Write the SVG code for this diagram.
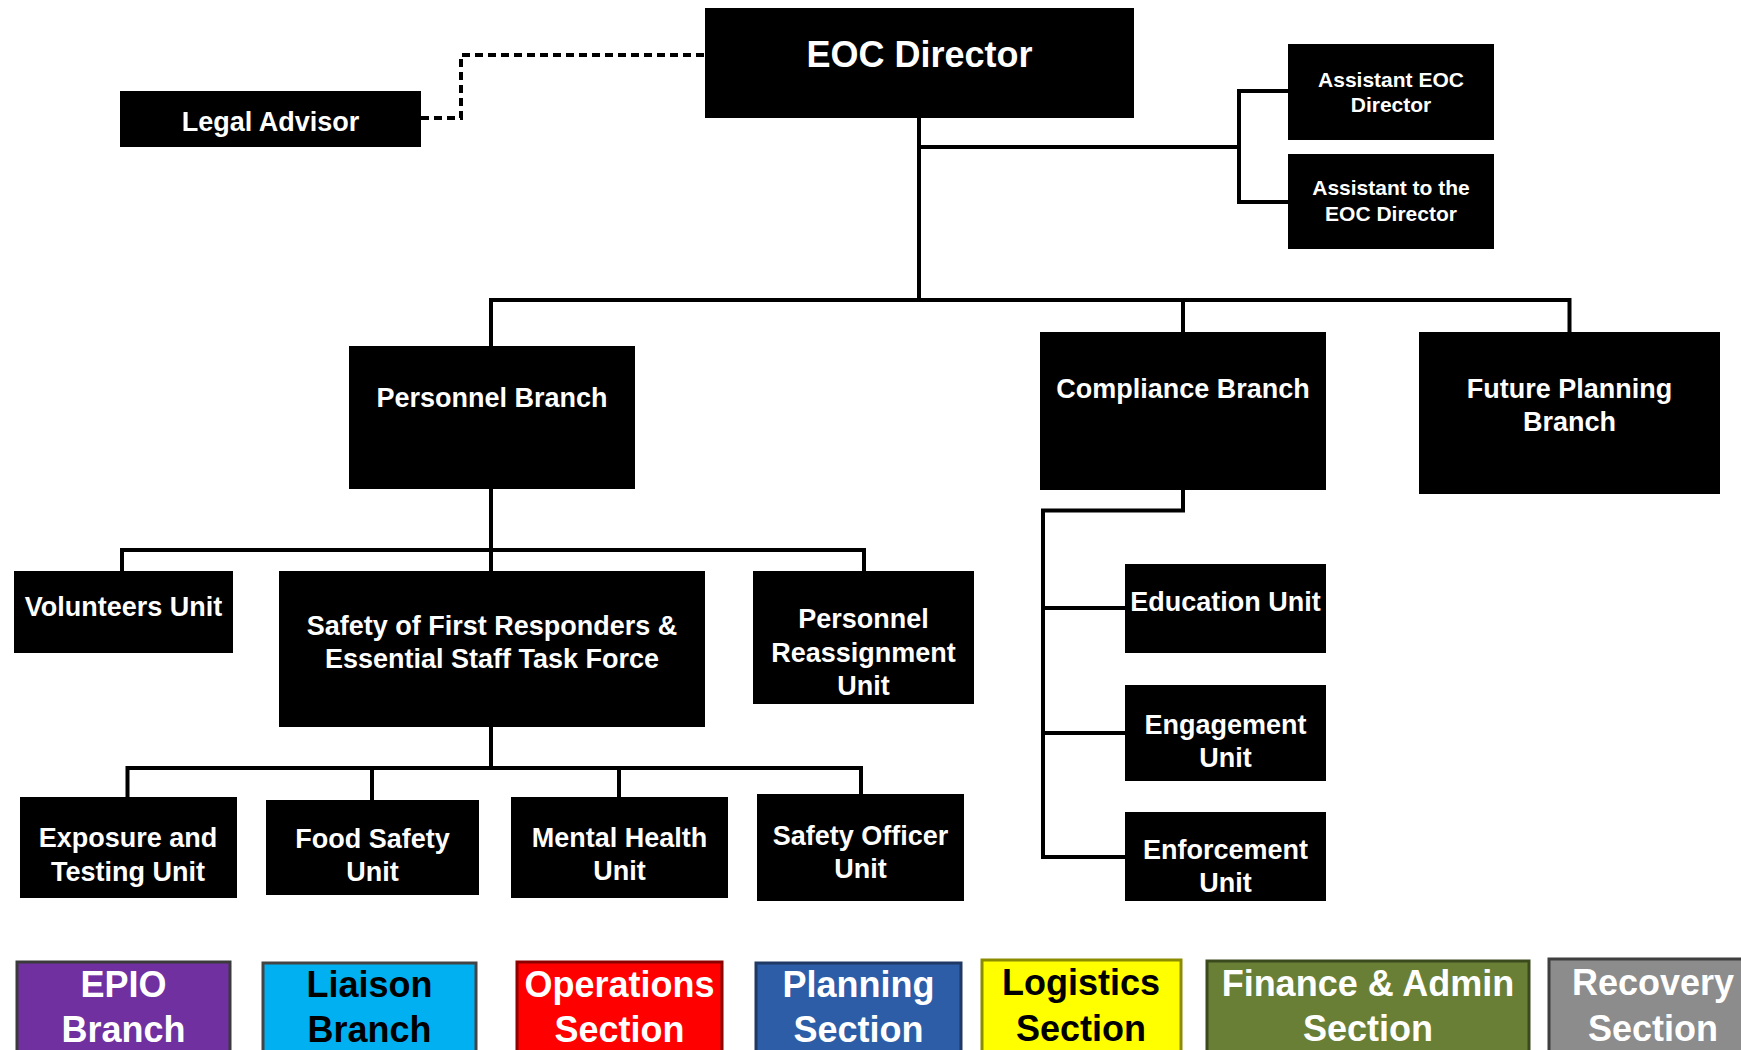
<svg xmlns="http://www.w3.org/2000/svg" width="1741" height="1050" viewBox="0 0 1741 1050">
<style>
.box{fill:#000}
.t{font-family:"Liberation Sans",Arial,sans-serif;font-weight:bold;text-anchor:middle;fill:#fff}
.s27{font-size:27px}
.s21{font-size:21px}
.s36{font-size:36px}
.dk{fill:#000}
.ln{fill:none;stroke:#000;stroke-width:4;stroke-linejoin:miter;stroke-linecap:square}
.dash{fill:none;stroke:#000;stroke-width:4;stroke-dasharray:8 5}
.leg{stroke-width:3}
</style>
<rect width="1741" height="1050" fill="#fff"/>
<g id="connectors">
<path class="dash" d="M421,118 H461 V55 H705"/>
<path class="ln" d="M919,118 V300 M491,300 H1569.5 M491,300 V346 M1183,300 V332 M1569.5,300 V332"/>
<path class="ln" d="M919,147 H1239 M1288,91 H1239 V202 H1288"/>
<path class="ln" d="M491,489 V571 M122,571 V550 H864 V571"/>
<path class="ln" d="M491,727 V768 M127.5,797 V768 H861 V794 M372,768 V800 M619,768 V797"/>
<path class="ln" d="M1183,490 V510.5 H1043 V857 H1125 M1043,608 H1125 M1043,733 H1125"/>
</g>
<g id="eoc-director"><rect class="box" x="705" y="8" width="429" height="110"/><text class="t s36" x="919.5" y="67">EOC Director</text></g>
<g id="legal-advisor"><rect class="box" x="120" y="91" width="301" height="56"/><text class="t s27" x="270.5" y="131">Legal Advisor</text></g>
<g id="assistant-eoc-director"><rect class="box" x="1288" y="44" width="206" height="96"/><text class="t s21" x="1391" y="87">Assistant EOC</text><text class="t s21" x="1391" y="112">Director</text></g>
<g id="assistant-to-director"><rect class="box" x="1288" y="154" width="206" height="95"/><text class="t s21" x="1391" y="195">Assistant to the</text><text class="t s21" x="1391" y="221">EOC Director</text></g>
<g id="personnel-branch"><rect class="box" x="349" y="346" width="286" height="143"/><text class="t s27" x="492" y="407">Personnel Branch</text></g>
<g id="compliance-branch"><rect class="box" x="1040" y="332" width="286" height="158"/><text class="t s27" x="1183" y="397.5">Compliance Branch</text></g>
<g id="future-planning-branch"><rect class="box" x="1419" y="332" width="301" height="162"/><text class="t s27" x="1569.5" y="397.5">Future Planning</text><text class="t s27" x="1569.5" y="430.5">Branch</text></g>
<g id="volunteers-unit"><rect class="box" x="14" y="571" width="219" height="82"/><text class="t s27" x="123.5" y="616">Volunteers Unit</text></g>
<g id="safety-task-force"><rect class="box" x="279" y="571" width="426" height="156"/><text class="t s27" x="492" y="634.5">Safety of First Responders &amp;</text><text class="t s27" x="492" y="667.5">Essential Staff Task Force</text></g>
<g id="personnel-reassignment-unit"><rect class="box" x="753" y="571" width="221" height="133"/><text class="t s27" x="863.5" y="628">Personnel</text><text class="t s27" x="863.5" y="661.5">Reassignment</text><text class="t s27" x="863.5" y="695">Unit</text></g>
<g id="education-unit"><rect class="box" x="1125" y="564" width="201" height="89"/><text class="t s27" x="1225.5" y="610.5">Education Unit</text></g>
<g id="engagement-unit"><rect class="box" x="1125" y="685" width="201" height="96"/><text class="t s27" x="1225.5" y="734">Engagement</text><text class="t s27" x="1225.5" y="767">Unit</text></g>
<g id="enforcement-unit"><rect class="box" x="1125" y="812" width="201" height="89"/><text class="t s27" x="1225.5" y="859">Enforcement</text><text class="t s27" x="1225.5" y="892">Unit</text></g>
<g id="exposure-testing-unit"><rect class="box" x="20" y="797" width="217" height="101"/><text class="t s27" x="128" y="847">Exposure and</text><text class="t s27" x="128" y="880.5">Testing Unit</text></g>
<g id="food-safety-unit"><rect class="box" x="266" y="800" width="213" height="95"/><text class="t s27" x="372.5" y="847.5">Food Safety</text><text class="t s27" x="372.5" y="881">Unit</text></g>
<g id="mental-health-unit"><rect class="box" x="511" y="797" width="217" height="101"/><text class="t s27" x="619.5" y="846.5">Mental Health</text><text class="t s27" x="619.5" y="880">Unit</text></g>
<g id="safety-officer-unit"><rect class="box" x="757" y="794" width="207" height="107"/><text class="t s27" x="860.5" y="844.5">Safety Officer</text><text class="t s27" x="860.5" y="877.5">Unit</text></g>
<g id="epio-branch"><rect class="leg" x="17" y="962" width="213" height="100" fill="#7030A0" stroke="#3a3a3a"/><text class="t s36" x="123.5" y="997">EPIO</text><text class="t s36" x="123.5" y="1042">Branch</text></g>
<g id="liaison-branch"><rect class="leg" x="263" y="963" width="213" height="100" fill="#00B0F0" stroke="#444"/><text class="t s36 dk" x="369.5" y="997">Liaison</text><text class="t s36 dk" x="369.5" y="1042">Branch</text></g>
<g id="operations-section"><rect class="leg" x="517" y="962" width="205" height="100" fill="#FF0000" stroke="#8B0000"/><text class="t s36" x="619.5" y="997">Operations</text><text class="t s36" x="619.5" y="1042">Section</text></g>
<g id="planning-section"><rect class="leg" x="756" y="963" width="205" height="100" fill="#2E5DA7" stroke="#1F3864"/><text class="t s36" x="858.5" y="997">Planning</text><text class="t s36" x="858.5" y="1042">Section</text></g>
<g id="logistics-section"><rect class="leg" x="982" y="960" width="199" height="100" fill="#FFFF00" stroke="#8C8C00"/><text class="t s36 dk" x="1081" y="995">Logistics</text><text class="t s36 dk" x="1081" y="1041">Section</text></g>
<g id="finance-admin-section"><rect class="leg" x="1207" y="961" width="322" height="100" fill="#6A7F36" stroke="#3B4A1C"/><text class="t s36" x="1368" y="996">Finance &amp; Admin</text><text class="t s36" x="1368" y="1041">Section</text></g>
<g id="recovery-section"><rect class="leg" x="1549" y="959" width="210" height="100" fill="#8C8C8C" stroke="#3F3F3F"/><text class="t s36" x="1653" y="995">Recovery</text><text class="t s36" x="1653" y="1041">Section</text></g>
</svg>
